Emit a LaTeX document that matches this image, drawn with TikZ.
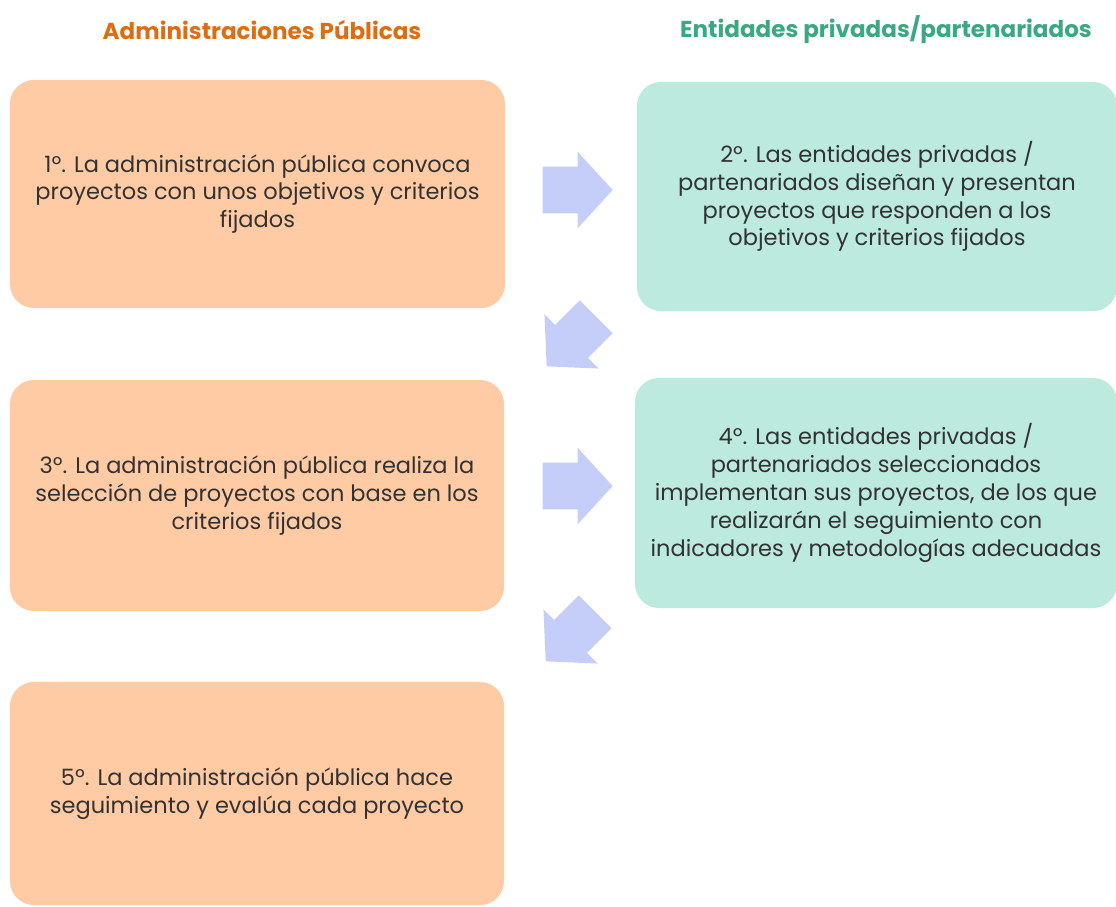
\documentclass[tikz,border=0pt]{standalone}
\usepackage{fontspec}
\setmainfont{Poppins}
\usepackage{tikz}
\usetikzlibrary{shapes.arrows}

\definecolor{peach}{RGB}{255,203,165}
\definecolor{mint}{RGB}{189,234,223}
\definecolor{periwinkle}{RGB}{197,206,248}
\definecolor{headorange}{RGB}{224,108,16}
\definecolor{headteal}{RGB}{58,168,128}
\definecolor{bodytext}{RGB}{50,50,50}

\begin{document}
\begin{tikzpicture}[x=0.025cm,y=-0.025cm,
    stepbox/.style={rounded corners=0.6cm,inner sep=0pt,align=center,
        text=bodytext,font=\fontsize{16}{19.8}\selectfont},
    adminbox/.style={stepbox,fill=peach},
    privbox/.style={stepbox,fill=mint},
    flowarrow/.style={single arrow,fill=periwinkle,draw=none,
        inner xsep=0pt,inner ysep=0.575cm,minimum height=1.75cm,
        single arrow head extend=0.375cm,single arrow tip angle=95},
    header/.style={font=\fontsize{16.4}{18}\selectfont\bfseries}]
    \useasboundingbox (0,0) rectangle (1116,906);
    \clip (0,0) rectangle (1116,906);
    %column headers
    \node[header,text=headorange] (hadmin) at (262,30) {Administraciones Públicas};
    \node[header,text=headteal] (hpriv) at (886,30) {Entidades privadas/partenariados};
    %steps
    \node[adminbox,minimum width=12.375cm,minimum height=5.7cm] (s1) at (257.5,194)
        {1º. La administración pública convoca\\proyectos con unos objetivos y criterios\\fijados};
    \node[privbox,minimum width=12cm,minimum height=5.725cm] (s2) at (877,196.5)
        {2º. Las entidades privadas /\\partenariados diseñan y presentan\\proyectos que responden a los\\objetivos y criterios fijados};
    \node[adminbox,minimum width=12.35cm,minimum height=5.775cm] (s3) at (257,495.5)
        {3º. La administración pública realiza la\\selección de proyectos con base en los\\criterios fijados};
    \node[privbox,minimum width=12.05cm,minimum height=5.75cm] (s4) at (876,493)
        {4º. Las entidades privadas /\\partenariados seleccionados\\implementan sus proyectos, de los que\\realizarán el seguimiento con\\indicadores y metodologías adecuadas};
    \node[adminbox,minimum width=12.35cm,minimum height=5.575cm] (s5) at (257,793.5)
        {5º. La administración pública hace\\seguimiento y evalúa cada proyecto};
    %arrows between the steps
    \node[flowarrow] (a12) at (567,190) {};
    \node[flowarrow,rotate=225] (a23) at (579,334) {};
    \node[flowarrow] (a34) at (567,486) {};
    \node[flowarrow,rotate=225] (a45) at (578,629) {};
\end{tikzpicture}
\end{document}
